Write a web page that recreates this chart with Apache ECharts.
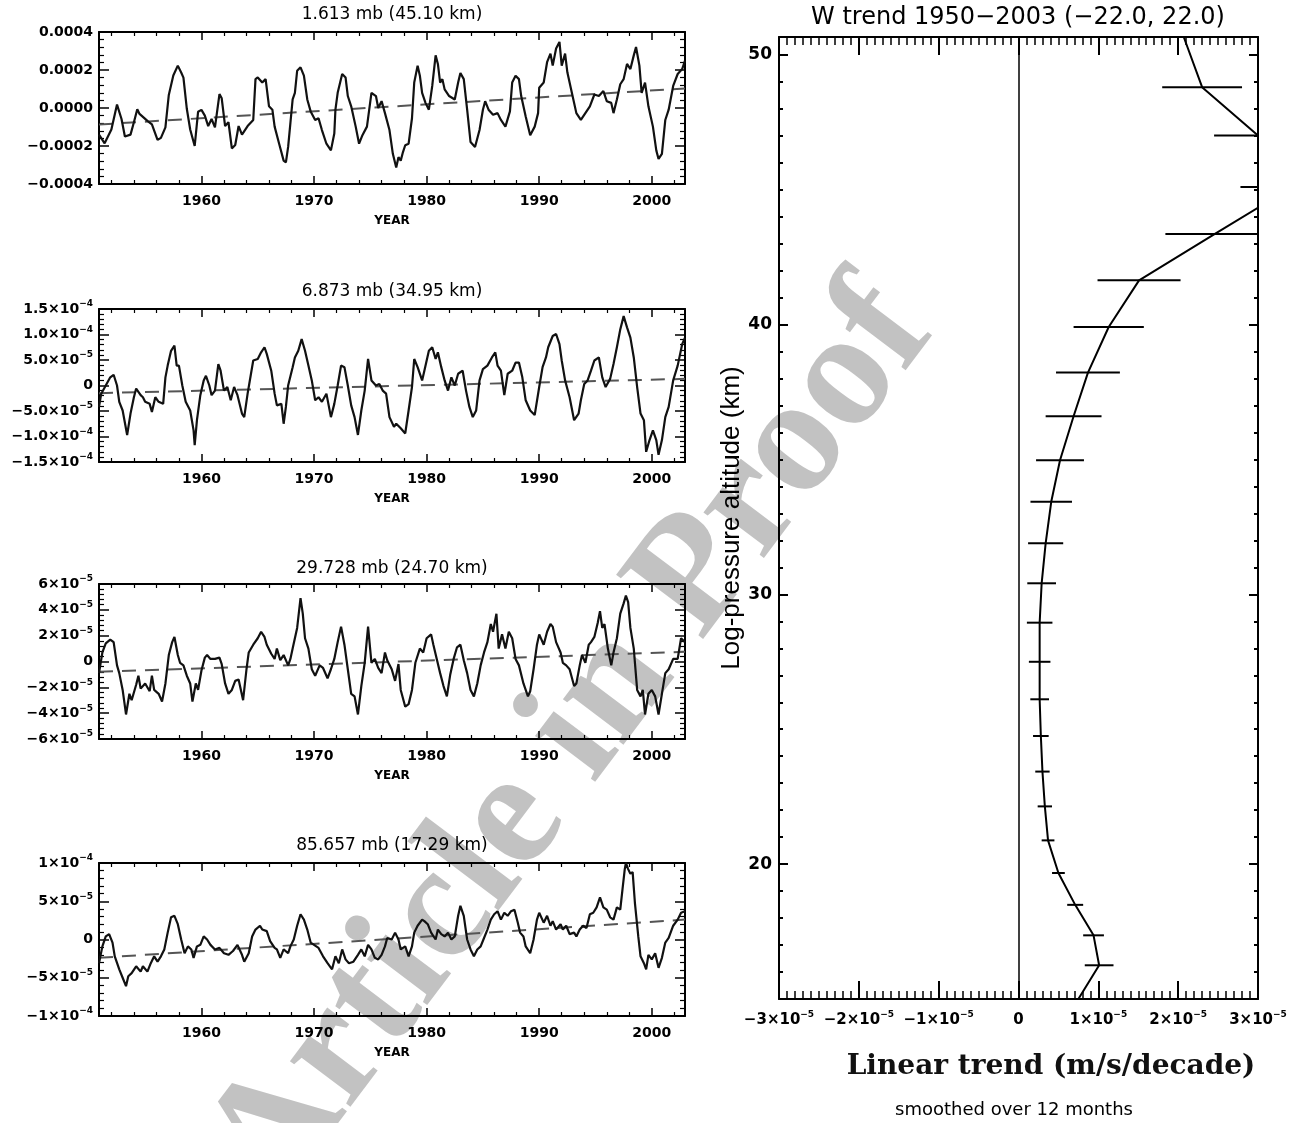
<!DOCTYPE html>
<html>
<head>
<meta charset="utf-8">
<title>W trend 1950-2003</title>
<script src="https://cdn.jsdelivr.net/npm/echarts/dist/echarts.min.js"></script>
<style>
  html, body { margin: 0; padding: 0; background: #fff; overflow: hidden; }
  #chart { width: 1307px; height: 1123px; }
</style>
</head>
<body>
<div id="chart"></div>
<script>
// x range of the four time series (years)
const yearMin = 1950.9;
const yearMax = 2002.95;

// 1.613 mb, values in units of 1e-4
const p1Series = [[1950.9,-1.40],[1951.4,-1.86],[1952.0,-1.13],[1952.5,0.18],[1952.9,-0.58],[1953.2,-1.50],[1953.7,-1.40],[1954.0,-0.75],[1954.3,-0.07],[1954.5,-0.31],[1955.2,-0.68],[1955.6,-0.86],[1956.1,-1.68],[1956.4,-1.57],[1956.8,-1.02],[1957.1,0.69],[1957.5,1.71],[1957.9,2.23],[1958.2,1.87],[1958.4,1.60],[1958.7,-0.04],[1959.0,-1.13],[1959.4,-2.00],[1959.7,-0.20],[1960.0,-0.10],[1960.3,-0.40],[1960.6,-0.95],[1960.9,-0.58],[1961.2,-1.02],[1961.6,0.73],[1961.8,0.51],[1962.1,-0.95],[1962.4,-0.75],[1962.7,-2.13],[1963.0,-1.95],[1963.3,-0.95],[1963.6,-1.40],[1964.1,-0.95],[1964.6,-0.63],[1964.8,1.52],[1965.0,1.61],[1965.4,1.34],[1965.7,1.52],[1966.0,0.09],[1966.3,-0.09],[1966.5,-0.98],[1966.9,-1.88],[1967.3,-2.77],[1967.5,-2.86],[1967.7,-2.05],[1967.9,-0.80],[1968.1,0.45],[1968.3,0.80],[1968.5,1.96],[1968.8,2.14],[1969.1,1.70],[1969.4,0.45],[1969.7,-0.18],[1970.1,-0.63],[1970.4,-0.54],[1970.7,-1.16],[1971.1,-1.88],[1971.5,-2.23],[1971.8,-1.34],[1971.9,-0.09],[1972.1,0.80],[1972.5,1.79],[1972.8,1.61],[1973.0,0.63],[1973.3,0.09],[1973.7,-0.98],[1974.0,-1.88],[1974.3,-1.43],[1974.7,-0.98],[1975.1,0.80],[1975.5,0.63],[1975.7,0.00],[1976.0,0.36],[1976.3,-0.27],[1976.7,-1.16],[1977.0,-2.41],[1977.3,-3.13],[1977.5,-2.59],[1977.7,-2.77],[1977.9,-2.32],[1978.1,-1.96],[1978.4,-1.88],[1978.7,-0.54],[1978.9,1.34],[1979.2,2.23],[1979.4,1.70],[1979.6,0.80],[1979.9,0.27],[1980.2,-0.09],[1980.5,1.16],[1980.8,2.77],[1981.0,2.32],[1981.2,1.34],[1981.4,1.52],[1981.6,0.98],[1982.0,0.63],[1982.5,0.45],[1982.8,1.34],[1983.0,1.84],[1983.3,1.52],[1983.6,-0.09],[1983.9,-1.79],[1984.3,-2.05],[1984.7,-1.16],[1985.0,-0.09],[1985.2,0.36],[1985.5,-0.09],[1985.9,-0.36],[1986.3,-0.27],[1986.6,-0.63],[1987.0,-0.98],[1987.4,-0.18],[1987.6,1.34],[1987.9,1.70],[1988.2,1.52],[1988.4,0.63],[1988.8,-0.45],[1989.2,-1.43],[1989.6,-0.98],[1989.9,-0.27],[1990.0,1.07],[1990.4,1.34],[1990.7,2.41],[1991.0,2.86],[1991.2,2.23],[1991.5,3.13],[1991.8,3.48],[1992.0,2.23],[1992.3,2.86],[1992.5,1.88],[1992.9,0.80],[1993.3,-0.27],[1993.7,-0.63],[1994.1,-0.27],[1994.5,0.09],[1994.9,0.71],[1995.3,0.63],[1995.7,0.89],[1996.0,0.36],[1996.4,0.27],[1996.6,-0.27],[1996.9,0.45],[1997.2,1.25],[1997.5,1.52],[1997.8,2.32],[1998.1,2.05],[1998.4,2.77],[1998.6,3.21],[1998.9,2.23],[1999.1,0.80],[1999.4,1.34],[1999.7,0.09],[2000.1,-0.98],[2000.4,-2.23],[2000.6,-2.68],[2000.9,-2.41],[2001.2,-0.63],[2001.5,-0.09],[2001.9,1.16],[2002.3,1.79],[2002.7,2.05],[2002.95,2.50]];
const p1Trend = [[1950.9,-0.87],[2002.95,1.03]];

// 6.873 mb, values in units of 1e-5
const p2Series = [[1950.9,-4.2],[1951.1,-1.6],[1951.5,0],[1951.9,1.6],[1952.2,2.1],[1952.5,0],[1952.7,-3.2],[1953.0,-4.9],[1953.4,-9.7],[1953.7,-5.5],[1954.0,-2.3],[1954.2,-0.6],[1954.6,-1.9],[1954.8,-2.3],[1955.0,-3.2],[1955.4,-3.6],[1955.6,-5.2],[1955.9,-2.3],[1956.2,-3.2],[1956.6,-3.6],[1956.8,1.6],[1957.0,3.9],[1957.3,6.8],[1957.6,7.8],[1957.8,3.9],[1958.0,3.9],[1958.3,0],[1958.6,-3.2],[1959.0,-4.9],[1959.3,-8.8],[1959.4,-11.7],[1959.6,-6.8],[1959.9,-1.9],[1960.2,1.0],[1960.4,1.9],[1960.7,0],[1960.9,-1.9],[1961.2,-1.0],[1961.5,4.2],[1961.7,2.9],[1962.0,-1.0],[1962.3,-0.3],[1962.6,-2.9],[1962.9,-0.3],[1963.2,-1.9],[1963.6,-5.5],[1963.8,-6.2],[1964.1,-1.6],[1964.4,2.3],[1964.6,4.9],[1965.0,5.2],[1965.3,6.5],[1965.6,7.5],[1965.8,6.2],[1966.2,2.9],[1966.5,-1.6],[1966.7,-3.9],[1967.1,-3.6],[1967.3,-7.5],[1967.5,-4.2],[1967.7,0],[1968.1,3.6],[1968.3,5.5],[1968.6,6.8],[1968.9,9.1],[1969.2,6.8],[1969.5,3.9],[1969.8,1.0],[1970.1,-2.9],[1970.4,-2.3],[1970.7,-3.2],[1971.1,-1.6],[1971.5,-6.2],[1971.8,-3.6],[1972.1,0],[1972.4,3.9],[1972.7,3.6],[1973.0,0],[1973.3,-3.9],[1973.6,-6.2],[1973.9,-9.7],[1974.2,-4.9],[1974.5,-1.0],[1974.8,5.2],[1975.1,1.0],[1975.5,0],[1975.8,0.3],[1976.1,-1.0],[1976.4,-1.6],[1976.7,-6.2],[1977.1,-8.1],[1977.3,-7.5],[1977.7,-8.4],[1978.1,-9.4],[1978.4,-4.9],[1978.7,-0.3],[1978.9,5.2],[1979.2,3.6],[1979.6,1.0],[1979.8,2.9],[1980.2,6.8],[1980.5,7.5],[1980.8,5.2],[1981.0,6.5],[1981.3,3.6],[1981.6,1.0],[1981.9,-1.0],[1982.2,1.6],[1982.5,0],[1982.8,2.3],[1983.2,2.9],[1983.5,-1.0],[1983.8,-4.2],[1984.1,-6.2],[1984.4,-4.9],[1984.7,1.0],[1985.0,3.2],[1985.4,3.9],[1985.8,5.5],[1986.1,6.5],[1986.3,3.9],[1986.6,2.9],[1986.9,-1.9],[1987.2,2.3],[1987.6,2.9],[1987.9,4.5],[1988.2,4.5],[1988.5,1.6],[1988.8,-2.9],[1989.2,-4.9],[1989.6,-5.8],[1990.0,-0.3],[1990.3,3.6],[1990.6,5.5],[1990.8,7.5],[1991.2,9.7],[1991.5,10.1],[1991.8,8.1],[1992.0,4.9],[1992.3,1.0],[1992.7,-2.3],[1993.1,-6.8],[1993.5,-5.5],[1993.7,-2.9],[1994.0,0.3],[1994.3,1.0],[1994.6,2.9],[1994.9,4.9],[1995.3,5.5],[1995.6,1.6],[1995.9,-0.3],[1996.3,1.3],[1996.6,4.2],[1996.9,7.5],[1997.2,11.0],[1997.5,13.6],[1997.8,11.4],[1998.1,9.4],[1998.4,5.5],[1998.7,-0.3],[1999.0,-5.5],[1999.3,-6.8],[1999.5,-13.0],[1999.8,-10.7],[2000.1,-8.8],[2000.4,-10.7],[2000.6,-13.6],[2000.9,-10.7],[2001.2,-6.2],[2001.5,-4.2],[2001.9,1.0],[2002.3,3.9],[2002.7,8.1],[2002.95,9.4]];
const p2Trend = [[1950.9,-1.5],[2002.95,1.3]];

// 29.728 mb, values in units of 1e-5
const p3Series = [[1950.9,-0.9],[1951.2,0.7],[1951.5,1.4],[1951.9,1.7],[1952.2,1.5],[1952.5,-0.3],[1952.7,-0.9],[1953.0,-2.2],[1953.3,-4.1],[1953.6,-2.5],[1953.8,-3.0],[1954.2,-1.8],[1954.4,-1.1],[1954.6,-2.1],[1955.0,-1.7],[1955.4,-2.3],[1955.6,-1.1],[1955.8,-2.2],[1956.2,-2.5],[1956.5,-3.1],[1956.8,-1.7],[1957.1,0.5],[1957.4,1.5],[1957.6,1.9],[1957.9,0.5],[1958.1,-0.1],[1958.4,-0.3],[1958.7,-1.1],[1959.0,-1.7],[1959.2,-3.1],[1959.5,-1.7],[1959.7,-2.2],[1960.0,-0.7],[1960.3,0.3],[1960.5,0.5],[1960.8,0.2],[1961.2,0.2],[1961.6,0.3],[1961.8,-0.2],[1962.1,-1.7],[1962.4,-2.5],[1962.7,-2.2],[1963.0,-1.5],[1963.3,-1.4],[1963.7,-3.0],[1964.0,-0.6],[1964.2,0.7],[1964.6,1.3],[1965.0,1.8],[1965.3,2.3],[1965.6,1.9],[1965.8,1.3],[1966.2,0.6],[1966.5,0.2],[1966.7,1.0],[1967.0,0.1],[1967.3,0.5],[1967.7,-0.3],[1967.9,0.2],[1968.1,1.0],[1968.5,2.6],[1968.8,4.9],[1969.0,3.7],[1969.2,1.8],[1969.5,1.0],[1969.8,-0.6],[1970.1,-1.1],[1970.5,-0.3],[1970.8,-0.5],[1971.2,-1.3],[1971.5,-0.6],[1971.8,0.2],[1972.1,1.5],[1972.4,2.7],[1972.7,1.3],[1973.0,-0.6],[1973.3,-2.5],[1973.6,-2.7],[1973.9,-4.1],[1974.2,-1.9],[1974.5,-0.1],[1974.8,2.7],[1975.1,-0.1],[1975.4,0.2],[1975.7,-0.5],[1976.0,-0.9],[1976.3,0.7],[1976.5,0.1],[1976.9,-0.6],[1977.2,-1.5],[1977.5,-0.2],[1977.7,-2.2],[1978.1,-3.5],[1978.4,-3.3],[1978.7,-2.2],[1979.0,-0.1],[1979.4,1.0],[1979.7,0.7],[1980.0,1.8],[1980.4,2.1],[1980.6,1.3],[1980.9,0.2],[1981.2,-0.9],[1981.5,-1.9],[1981.8,-2.7],[1982.1,-1.0],[1982.4,0.2],[1982.7,1.1],[1983.0,1.3],[1983.3,0.1],[1983.6,-0.9],[1983.9,-2.2],[1984.2,-2.7],[1984.5,-1.7],[1984.8,-0.3],[1985.1,0.7],[1985.4,1.5],[1985.7,2.9],[1985.9,2.3],[1986.2,3.7],[1986.4,1.0],[1986.7,2.1],[1987.0,1.0],[1987.3,2.3],[1987.6,1.8],[1987.9,0.2],[1988.2,-0.3],[1988.6,-1.7],[1989.0,-2.7],[1989.2,-2.3],[1989.5,-0.6],[1989.8,1.3],[1990.0,2.1],[1990.4,1.3],[1990.7,2.3],[1991.0,2.9],[1991.2,2.7],[1991.5,1.5],[1991.9,0.7],[1992.1,-0.1],[1992.4,-0.3],[1992.7,-0.6],[1993.1,-1.9],[1993.3,-1.7],[1993.6,-0.3],[1993.8,0.5],[1994.1,-0.1],[1994.4,1.3],[1994.6,1.5],[1994.9,1.9],[1995.2,3.0],[1995.4,3.9],[1995.6,2.6],[1995.8,2.9],[1996.1,1.0],[1996.4,-0.3],[1996.6,0.7],[1996.9,1.8],[1997.2,3.7],[1997.5,4.5],[1997.7,5.1],[1997.9,4.6],[1998.1,2.6],[1998.4,1.0],[1998.7,-2.2],[1999.0,-2.7],[1999.2,-2.2],[1999.4,-4.1],[1999.7,-2.5],[2000.0,-2.2],[2000.3,-2.7],[2000.6,-4.1],[2000.9,-2.5],[2001.2,-0.9],[2001.5,-0.6],[2001.9,0.2],[2002.3,0.2],[2002.6,1.8],[2002.95,1.5]];
const p3Trend = [[1950.9,-0.8],[2002.95,0.75]];

// 85.657 mb, values in units of 1e-5
const p4Series = [[1950.9,-3.1],[1951.2,-0.9],[1951.5,0.4],[1951.8,0.7],[1952.1,-0.4],[1952.3,-2.2],[1952.7,-3.9],[1953.0,-5.0],[1953.3,-6.1],[1953.5,-4.8],[1953.8,-4.4],[1954.2,-3.5],[1954.6,-4.2],[1954.8,-3.5],[1955.2,-4.2],[1955.5,-3.1],[1955.8,-2.2],[1956.1,-2.9],[1956.4,-2.2],[1956.7,-1.3],[1957.0,0.9],[1957.3,2.9],[1957.6,3.1],[1957.9,2.0],[1958.2,0],[1958.5,-1.8],[1958.8,-0.9],[1959.1,-1.3],[1959.3,-2.4],[1959.6,-0.9],[1959.9,-0.7],[1960.2,0.4],[1960.5,0],[1960.8,-0.7],[1961.2,-1.3],[1961.6,-1.1],[1962.0,-1.8],[1962.4,-2.0],[1962.8,-1.5],[1963.2,-0.7],[1963.6,-2.0],[1963.8,-2.9],[1964.2,-1.8],[1964.5,0.4],[1964.8,1.3],[1965.2,1.8],[1965.4,1.3],[1965.8,1.1],[1966.1,-0.2],[1966.5,-1.1],[1966.7,-1.3],[1967.0,-2.4],[1967.3,-1.3],[1967.7,-1.8],[1967.9,-0.9],[1968.2,0],[1968.5,1.8],[1968.8,3.3],[1969.1,2.6],[1969.4,1.3],[1969.7,-0.4],[1970.0,-0.7],[1970.4,-1.1],[1970.8,-2.2],[1971.2,-3.1],[1971.6,-3.9],[1971.9,-2.2],[1972.2,-3.1],[1972.5,-1.3],[1972.8,-2.6],[1973.1,-3.1],[1973.5,-2.9],[1973.9,-2.0],[1974.2,-1.3],[1974.5,-2.2],[1974.8,-0.7],[1975.1,-1.3],[1975.4,-2.4],[1975.7,-2.6],[1976.0,-2.0],[1976.3,-0.9],[1976.5,0.2],[1976.9,0],[1977.2,0.9],[1977.5,0],[1977.7,-1.3],[1978.1,-0.9],[1978.4,-2.2],[1978.7,-0.9],[1978.9,0.9],[1979.2,1.8],[1979.6,2.6],[1979.8,2.4],[1980.1,2.0],[1980.4,0.9],[1980.8,0],[1981.0,1.3],[1981.3,0.7],[1981.6,0.4],[1981.9,0.9],[1982.2,0],[1982.5,0.4],[1982.8,3.1],[1983.0,4.4],[1983.3,3.1],[1983.6,0],[1983.9,-1.3],[1984.2,-2.2],[1984.5,-1.3],[1984.8,-0.9],[1985.1,0.2],[1985.4,1.3],[1985.7,2.6],[1986.0,3.3],[1986.3,3.7],[1986.6,2.6],[1986.9,3.5],[1987.2,3.1],[1987.5,3.7],[1987.8,3.9],[1988.1,2.2],[1988.3,0.9],[1988.6,0.4],[1988.8,-0.9],[1989.2,-1.8],[1989.5,0],[1989.8,2.6],[1990.0,3.5],[1990.4,2.2],[1990.7,3.1],[1991.0,1.8],[1991.2,2.4],[1991.5,1.3],[1991.9,2.0],[1992.1,1.3],[1992.4,1.8],[1992.7,0.7],[1993.1,0.9],[1993.3,0.4],[1993.6,1.3],[1993.9,1.8],[1994.2,1.5],[1994.5,3.3],[1994.8,3.5],[1995.1,4.2],[1995.4,5.5],[1995.7,4.2],[1996.0,3.9],[1996.3,2.9],[1996.6,2.6],[1996.9,4.2],[1997.2,3.9],[1997.4,6.6],[1997.6,9.2],[1997.7,10.0],[1997.9,9.2],[1998.1,8.6],[1998.3,8.8],[1998.5,4.8],[1998.8,0.4],[1999.0,-2.2],[1999.3,-3.1],[1999.5,-3.9],[1999.7,-2.0],[2000.0,-2.6],[2000.3,-1.8],[2000.6,-3.7],[2000.9,-2.4],[2001.2,-0.4],[2001.5,0.2],[2001.9,1.8],[2002.3,2.6],[2002.6,3.5],[2002.95,3.7]];
const p4Trend = [[1950.9,-2.4],[2002.95,2.6]];

// trend profile: altitude (km), trend (1e-5 m/s/decade), error half-width
const profileAlt = [50.66, 48.80, 47.01, 45.10, 43.36, 41.64, 39.91, 38.22, 36.60, 34.97, 33.43, 31.89, 30.41, 28.95, 27.50, 26.11, 24.75, 23.43, 22.14, 20.88, 19.67, 18.49, 17.36, 16.25, 15.00];
const profileTrend = [2.07, 2.30, 3.00, 3.43, 2.46, 1.51, 1.13, 0.87, 0.69, 0.52, 0.41, 0.34, 0.29, 0.265, 0.265, 0.265, 0.28, 0.30, 0.33, 0.37, 0.50, 0.71, 0.94, 1.01, 0.75];
const profileErr = [null, 0.50, 0.55, 0.65, 0.62, 0.52, 0.44, 0.40, 0.35, 0.30, 0.26, 0.22, 0.18, 0.16, 0.135, 0.117, 0.098, 0.09, 0.09, 0.08, 0.08, 0.10, 0.13, 0.18, null];

// tick values and labels ('^' marks the exponent)
const p1Ticks = [-4, -2, 0, 2, 4];
const p1Labels = ['−0.0004', '−0.0002', '0.0000', '0.0002', '0.0004'];
const p2Ticks = [-15, -10, -5, 0, 5, 10, 15];
const p2Labels = ['−1.5×10^−4', '−1.0×10^−4', '−5.0×10^−5', '0', '5.0×10^−5', '1.0×10^−4', '1.5×10^−4'];
const p3Ticks = [-6, -4, -2, 0, 2, 4, 6];
const p3Labels = ['−6×10^−5', '−4×10^−5', '−2×10^−5', '0', '2×10^−5', '4×10^−5', '6×10^−5'];
const p4Ticks = [-10, -5, 0, 5, 10];
const p4Labels = ['−1×10^−4', '−5×10^−5', '0', '5×10^−5', '1×10^−4'];
const trendTicks = [-3, -2, -1, 0, 1, 2, 3];
const trendLabels = ['−3×10^−5', '−2×10^−5', '−1×10^−5', '0', '1×10^−5', '2×10^−5', '3×10^−5'];

const panelTitles = ['1.613 mb (45.10 km)', '6.873 mb (34.95 km)', '29.728 mb (24.70 km)', '85.657 mb (17.29 km)'];

const chart = echarts.init(document.getElementById('chart'), null, { renderer: 'canvas' });

const leftGrids = [
  { left: 99, top: 32, width: 586, height: 152 },
  { left: 99, top: 309, width: 586, height: 153 },
  { left: 99, top: 584, width: 586, height: 155 },
  { left: 99, top: 863, width: 586, height: 153 }
];
const rightGrid = { left: 779, top: 37, width: 479, height: 962 };

const black = '#000';
const tickFont = 'DejaVu Sans';

function richLabel(s) {
  const parts = s.split('^');
  return parts.length > 1 ? '{m|' + parts[0] + '}{e|' + parts[1] + '}' : '{m|' + s + '}';
}
function tickFormatter(ticks, labels) {
  return function (v) {
    const i = ticks.findIndex(t => Math.abs(t - v) < 1e-6);
    return i < 0 ? '' : richLabel(labels[i]);
  };
}
function richStyle(size) {
  return {
    m: { fontFamily: tickFont, fontWeight: 'bold', fontSize: size, color: black, lineHeight: size + 5 },
    e: { fontFamily: tickFont, fontWeight: 'bold', fontSize: Math.round(size * 0.62), color: black, lineHeight: 10, verticalAlign: 'top' }
  };
}

const xAxes = [];
const yAxes = [];
const series = [];

const panels = [
  { data: p1Series, trend: p1Trend, ticks: p1Ticks, labels: p1Labels, interval: 2 },
  { data: p2Series, trend: p2Trend, ticks: p2Ticks, labels: p2Labels, interval: 5 },
  { data: p3Series, trend: p3Trend, ticks: p3Ticks, labels: p3Labels, interval: 2 },
  { data: p4Series, trend: p4Trend, ticks: p4Ticks, labels: p4Labels, interval: 5 }
];

// bottom year axes (0-3), then top mirrors (4-7)
[false, true].forEach(function (isTop) {
  panels.forEach(function (p, i) {
    xAxes.push({
      type: 'value', gridIndex: i, position: isTop ? 'top' : 'bottom',
      min: yearMin, max: yearMax, splitNumber: 5,
      axisLine: { show: true, onZero: false, lineStyle: { color: black, width: 2 } },
      axisTick: { show: true, inside: true, length: 8, lineStyle: { color: black, width: 1.5 } },
      minorTick: { show: true, splitNumber: 5, length: 4, lineStyle: { color: black, width: 1.2 } },
      splitLine: { show: false },
      axisLabel: isTop ? { show: false } : {
        show: true, margin: 10, showMinLabel: false, showMaxLabel: false,
        formatter: v => String(Math.round(v)),
        color: black, fontFamily: tickFont, fontWeight: 'bold', fontSize: 14
      },
      name: isTop ? '' : 'YEAR', nameLocation: 'middle', nameGap: 31,
      nameTextStyle: { color: black, fontFamily: tickFont, fontWeight: 'bold', fontSize: 12 }
    });
  });
});

// left value axes (0-3), then right mirrors (4-7)
[false, true].forEach(function (isRight) {
  panels.forEach(function (p, i) {
    const ext = p.ticks[p.ticks.length - 1];
    yAxes.push({
      type: 'value', gridIndex: i, position: isRight ? 'right' : 'left',
      min: -ext, max: ext, interval: p.interval,
      axisLine: { show: true, onZero: false, lineStyle: { color: black, width: 2 } },
      axisTick: { show: true, inside: true, length: 10, lineStyle: { color: black, width: 1.5 } },
      minorTick: { show: true, splitNumber: 5, length: 5, lineStyle: { color: black, width: 1.2 } },
      splitLine: { show: false },
      axisLabel: isRight ? { show: false } : {
        show: true, margin: 6, formatter: tickFormatter(p.ticks, p.labels), rich: richStyle(14)
      }
    });
  });
});

panels.forEach(function (p, i) {
  series.push({
    type: 'line', xAxisIndex: i, yAxisIndex: i, data: p.data,
    showSymbol: false, symbol: 'none', clip: true,
    lineStyle: { color: '#111', width: 2.2 }, z: 3
  });
  series.push({
    type: 'line', xAxisIndex: i, yAxisIndex: i, data: p.trend,
    showSymbol: false, symbol: 'none',
    lineStyle: { color: '#555', width: 2, type: [14, 9] }, z: 2
  });
});

// right panel axes: x bottom (8), x top (9)
[false, true].forEach(function (isTop) {
  xAxes.push({
    type: 'value', gridIndex: 4, position: isTop ? 'top' : 'bottom',
    min: -3, max: 3, interval: 1,
    axisLine: { show: true, onZero: false, lineStyle: { color: black, width: 2 } },
    axisTick: { show: true, inside: true, length: 18, lineStyle: { color: black, width: 2 } },
    minorTick: { show: true, splitNumber: 10, length: 8, lineStyle: { color: black, width: 1.5 } },
    splitLine: { show: false },
    axisLabel: isTop ? { show: false } : {
      show: true, margin: 11, formatter: tickFormatter(trendTicks, trendLabels), rich: richStyle(15)
    }
  });
});

// right panel y: 8 left major, 9 left minor, 10 right major, 11 right minor
const altMin = 15, altMax = 50.66;
[false, true].forEach(function (isRight) {
  yAxes.push({
    type: 'value', gridIndex: 4, position: isRight ? 'right' : 'left',
    min: altMin, max: altMax, splitNumber: 4,
    axisLine: { show: true, onZero: false, lineStyle: { color: black, width: 2 } },
    axisTick: { show: true, inside: true, length: 9, lineStyle: { color: black, width: 2 } },
    splitLine: { show: false },
    axisLabel: isRight ? { show: false } : {
      show: true, margin: 7, showMinLabel: false, showMaxLabel: false,
      color: black, fontFamily: tickFont, fontWeight: 'bold', fontSize: 17
    },
    name: isRight ? '' : 'Log-pressure altitude (km)', nameLocation: 'middle', nameGap: 34,
    nameTextStyle: { color: black, fontFamily: 'Liberation Sans', fontSize: 26 }
  });
  yAxes.push({
    type: 'value', gridIndex: 4, position: isRight ? 'right' : 'left',
    min: altMin, max: altMax, interval: 1,
    axisLine: { show: false, onZero: false },
    axisTick: { show: true, inside: true, length: 4, lineStyle: { color: black, width: 2 } },
    splitLine: { show: false },
    axisLabel: { show: false }
  });
});

series.push({
  type: 'line', xAxisIndex: 8, yAxisIndex: 8,
  data: profileAlt.map((a, i) => [profileTrend[i], a]),
  showSymbol: false, symbol: 'none', clip: true,
  lineStyle: { color: black, width: 2 }, z: 3,
  markLine: {
    silent: true, symbol: ['none', 'none'], animation: false,
    label: { show: false },
    lineStyle: { color: black, width: 1.5, type: 'solid' },
    data: [{ xAxis: 0 }]
  }
});

series.push({
  type: 'custom', xAxisIndex: 8, yAxisIndex: 8, clip: true, z: 3,
  data: profileAlt.map((a, i) => [profileTrend[i], a, profileErr[i]]).filter(d => d[2] != null),
  renderItem: function (params, api) {
    const v = api.value(0), a = api.value(1), e = api.value(2);
    const lo = api.coord([Math.max(v - e, -3), a]);
    const hi = api.coord([Math.min(v + e, 3), a]);
    return {
      type: 'line',
      shape: { x1: lo[0], y1: lo[1], x2: hi[0], y2: hi[1] },
      style: { stroke: black, lineWidth: 2 }
    };
  }
});

const titleY = [15, 292, 569, 846];
const graphics = [
  {
    type: 'text', x: 572, y: 742, rotation: 0.925, z: 0, silent: true,
    style: {
      text: 'Article in Proof', font: 'bold 165px "Liberation Serif"',
      fill: 'rgba(120,120,120,0.45)', textAlign: 'center', textVerticalAlign: 'middle'
    }
  }
];
panelTitles.forEach(function (t, i) {
  graphics.push({
    type: 'text', x: 392, y: titleY[i], z: 10,
    style: { text: t, font: '17px "DejaVu Sans"', fill: black, textAlign: 'center', textVerticalAlign: 'middle' }
  });
});
graphics.push({
  type: 'text', x: 1018, y: 18, z: 10,
  style: { text: 'W trend 1950−2003 (−22.0, 22.0)', font: '24px "DejaVu Sans"', fill: black, textAlign: 'center', textVerticalAlign: 'middle' }
});
graphics.push({
  type: 'text', x: 1051, y: 1067, z: 10,
  style: { text: 'Linear trend (m/s/decade)', font: 'bold 28px "DejaVu Serif"', fill: '#111', textAlign: 'center', textVerticalAlign: 'middle' }
});
graphics.push({
  type: 'text', x: 1014, y: 1110, z: 10,
  style: { text: 'smoothed over 12 months', font: '18px "DejaVu Sans"', fill: black, textAlign: 'center', textVerticalAlign: 'middle' }
});

chart.setOption({
  animation: false,
  backgroundColor: '#fff',
  grid: leftGrids.concat([rightGrid]),
  xAxis: xAxes,
  yAxis: yAxes,
  series: series,
  graphic: { elements: graphics }
});

window.addEventListener('resize', () => chart.resize());
</script>
</body>
</html>
